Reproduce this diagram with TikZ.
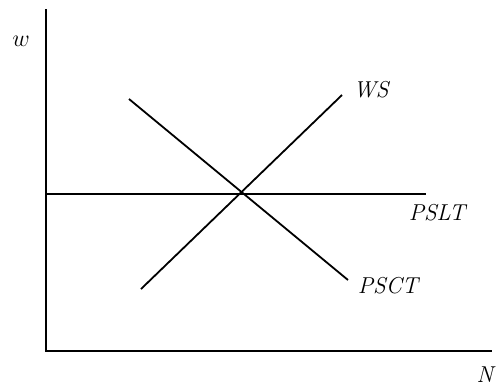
\documentclass[tikz,border=0pt]{standalone}
\begin{document}
\begin{tikzpicture}[x=0.5pt,y=-0.5pt,
  curve/.style={line width=0.9pt},
  lbl/.style={inner sep=0pt,font=\fontsize{11.5}{14}\selectfont\itshape}]
\useasboundingbox (0,0) rectangle (498,388);
\coordinate (o) at (46,351);
\coordinate (ytop) at (46,9);
\coordinate (xend) at (492,351);
\draw[curve] (ytop) -- (o) -- (xend);
\coordinate (h1) at (46,194);
\coordinate (h2) at (426,194);
\draw[curve] (h1) -- (h2);
\coordinate (ws1) at (141,289);
\coordinate (ws2) at (342,95);
\draw[curve] (ws1) -- (ws2);
\coordinate (pc1) at (129,99);
\coordinate (pc2) at (348,280);
\draw[curve] (pc1) -- (pc2);
\node[lbl] (w) at (21,41) {$w$};
\node[lbl] (N) at (485,375) {N};
\node[lbl] (WS) at (371,90) {WS};
\node[lbl] (PSLT) at (437,213) {PSLT};
\node[lbl] (PSCT) at (388,286) {PSCT};
\end{tikzpicture}
\end{document}
